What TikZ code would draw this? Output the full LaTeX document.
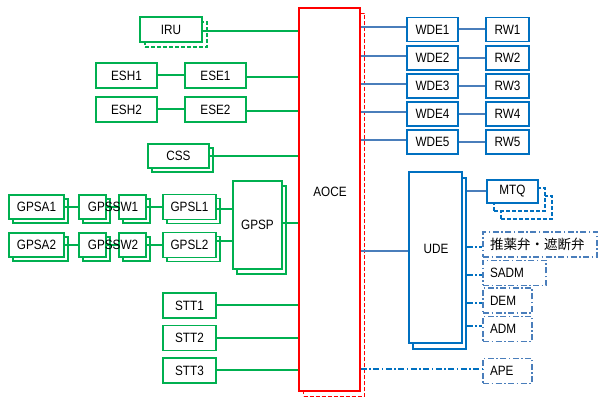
\documentclass[tikz,border=0pt]{standalone}
\usepackage{fontspec}
\setmainfont[FakeStretch=0.87]{Liberation Sans}
\newfontfamily\cjk{Noto Sans CJK JP}
\usetikzlibrary{shadows}
\definecolor{gr}{HTML}{00B050}
\definecolor{bb}{HTML}{0070C0}
\definecolor{bl}{HTML}{4A7EBB}
\definecolor{rd}{HTML}{FF0000}
\begin{document}
\begin{tikzpicture}[x=1pt,y=-1pt,
  font=\fontsize{13.5}{15}\selectfont,
  box/.style={draw, fill=white, line width=1.8pt, inner sep=0pt, minimum height=25pt},
  gbox/.style={box, draw=gr},
  bbox/.style={box, draw=bb},
  rbox/.style={box, draw=rd},
  dbox/.style={draw=bl, fill=white, line width=1.6pt, inner ysep=0pt, inner xsep=7pt,
    minimum height=25pt, align=left,
    dash pattern=on 6pt off 2.5pt on 1.5pt off 2.5pt},
  shad/.style n args={3}{general shadow={shadow xshift=#1pt, shadow yshift=-#2pt,
    draw=#3, fill=white, line width=1.8pt}},
  dshad/.style n args={3}{general shadow={shadow xshift=#1pt, shadow yshift=-#2pt,
    draw=#3, fill=white, line width=1.8pt, dash pattern=on 4pt off 2pt}},
  gline/.style={draw=gr, line width=2pt},
  bline/.style={draw=bl, line width=2pt},
  dline/.style={draw=bb, line width=1.8pt, dash pattern=on 6pt off 2.5pt on 1.5pt off 2.5pt},
]
\useasboundingbox (0,0) rectangle (598,398);

% central computer
\node[rbox, minimum width=61pt, minimum height=383pt, dshad={4.5}{5.5}{rd}] (aoce) at (329.5,199.5) {};
\node (aocet) at (330,192) {AOCE};

% left side (green)
\node[gbox, minimum width=62pt, dshad={5}{5}{gr}] (iru) at (171,29.5) {IRU};
\node[gbox, minimum width=61pt] (esh1) at (126.5,75.5) {ESH1};
\node[gbox, minimum width=61pt] (ese1) at (215.5,75.5) {ESE1};
\node[gbox, minimum width=61pt] (esh2) at (126.5,109.5) {ESH2};
\node[gbox, minimum width=61pt] (ese2) at (215.5,109.5) {ESE2};
\node[gbox, minimum width=61pt, minimum height=24pt, shad={4}{4}{gr}] (css) at (178.5,156) {CSS};
\node[gbox, minimum width=55pt, minimum height=24pt, shad={4}{4}{gr}] (gpsa1) at (36.5,207) {GPSA1};
\node[gbox, minimum width=55pt, minimum height=24pt, shad={4}{4}{gr}] (gpsa2) at (36.5,245) {GPSA2};
\node[gbox, minimum width=27pt, minimum height=24pt, shad={4}{4}{gr}] (swa1) at (92.5,207) {};
\node[gbox, minimum width=27pt, minimum height=24pt, shad={4}{4}{gr}] (swb1) at (132.5,207) {};
\node[gbox, minimum width=27pt, minimum height=24pt, shad={4}{4}{gr}] (swa2) at (92.5,245) {};
\node[gbox, minimum width=27pt, minimum height=24pt, shad={4}{4}{gr}] (swb2) at (132.5,245) {};
\node[gbox, minimum width=53pt, shad={4}{4}{gr}] (gpsl1) at (189.5,207) {GPSL1};
\node[gbox, minimum width=53pt, shad={4}{4}{gr}] (gpsl2) at (189.5,245) {GPSL2};
\node[gbox, minimum width=49pt, minimum height=88pt, shad={4}{5}{gr}] (gpsp) at (257.5,225) {GPSP};
\node[gbox, minimum width=53pt] (stt1) at (189.5,305.5) {STT1};
\node[gbox, minimum width=53pt] (stt2) at (189.5,338) {STT2};
\node[gbox, minimum width=53pt] (stt3) at (189.5,370.5) {STT3};

\draw[gline] ([yshift=-2pt]iru.east) -- ([yshift=-2pt]iru.east -| aoce.west);
\draw[gline] (esh1) -- (ese1);
\draw[gline] (esh2) -- (ese2);
\draw[gline] ([yshift=-2pt]ese1.east) -- ([yshift=-2pt]ese1.east -| aoce.west);
\draw[gline] ([yshift=-2pt]ese2.east) -- ([yshift=-2pt]ese2.east -| aoce.west);
\draw[gline] (css.east) -- (css.east -| aoce.west);
\draw[gline] (gpsa1) -- (swa1);
\draw[gline] (swa1) -- (swb1);
\draw[gline] (swb1) -- (gpsl1);
\draw[gline] (gpsa2) -- (swa2);
\draw[gline] (swa2) -- (swb2);
\draw[gline] (swb2) -- (gpsl2);
\draw[gline] ([yshift=-2pt]gpsl1.east) -- ([yshift=-2pt]gpsl1.east -| gpsp.west);
\draw[gline] ([yshift=4pt]gpsl2.east) -- ([yshift=4pt]gpsl2.east -| gpsp.west);
\draw[gline] ([yshift=2pt]gpsp.east) -- ([yshift=2pt]gpsp.east -| aoce.west);
\draw[gline] (stt1.east) -- (stt1.east -| aoce.west);
\draw[gline] (stt2.east) -- (stt2.east -| aoce.west);
\draw[gline] (stt3.east) -- (stt3.east -| aoce.west);

\node (gpssw1) at (113,207) {GPSSW1};
\node (gpssw2) at (113,245) {GPSSW2};

% right side (blue)
\foreach \i/\y in {1/29.5,2/58,3/86,4/114,5/142}{
  \node[bbox, minimum width=51pt, minimum height=24pt] (wde\i) at (432.5,\y) {WDE\i};
  \node[bbox, minimum width=43pt, minimum height=24pt] (rw\i) at (507.5,\y) {RW\i};
  \draw[bline] ([yshift=2pt]wde\i.west -| aoce.east) -- ([yshift=2pt]wde\i.west);
  \draw[bline] (wde\i) -- (rw\i);
}

\node[bbox, minimum width=53pt, minimum height=171pt, shad={4}{6}{bb}] (ude) at (435.5,257.5) {};
\node (udet) at (436,249) {UDE};
\coordinate (udesh) at ([xshift=4pt]ude.east);
\draw[bline] ([yshift=6.5pt]ude.west -| aoce.east) -- ([yshift=6.5pt]ude.west);

\node[bbox, minimum width=51pt, minimum height=23pt, dshad={14}{16}{bb}, dshad={7}{8}{bb}] (mtq) at (512.5,191.5) {MTQ};
\draw[bline] (mtq.west -| udesh) -- (mtq.west);

\node[dbox, text width=100pt] (valve) at (540,244.5) {\cjk 推薬弁・遮断弁};
\node[dbox, text width=49pt] (sadm) at (514.5,273) {SADM};
\node[dbox, text width=35pt] (dem) at (507.5,300.5) {DEM};
\node[dbox, text width=35pt] (adm) at (507.5,329) {ADM};
\node[dbox, text width=35pt] (ape) at (507.5,371) {APE};

\draw[dline] ([yshift=-2.5pt]valve.west -| udesh) -- ([yshift=-2.5pt]valve.west);
\draw[dline] ([yshift=-2pt]sadm.west -| udesh) -- ([yshift=-2pt]sadm.west);
\draw[dline] ([yshift=-2.5pt]dem.west -| udesh) -- ([yshift=-2.5pt]dem.west);
\draw[dline] ([yshift=3pt]adm.west -| udesh) -- ([yshift=3pt]adm.west);
\draw[dline] ([yshift=2pt]ape.west -| aoce.east) -- ([yshift=2pt]ape.west);
\end{tikzpicture}
\end{document}
